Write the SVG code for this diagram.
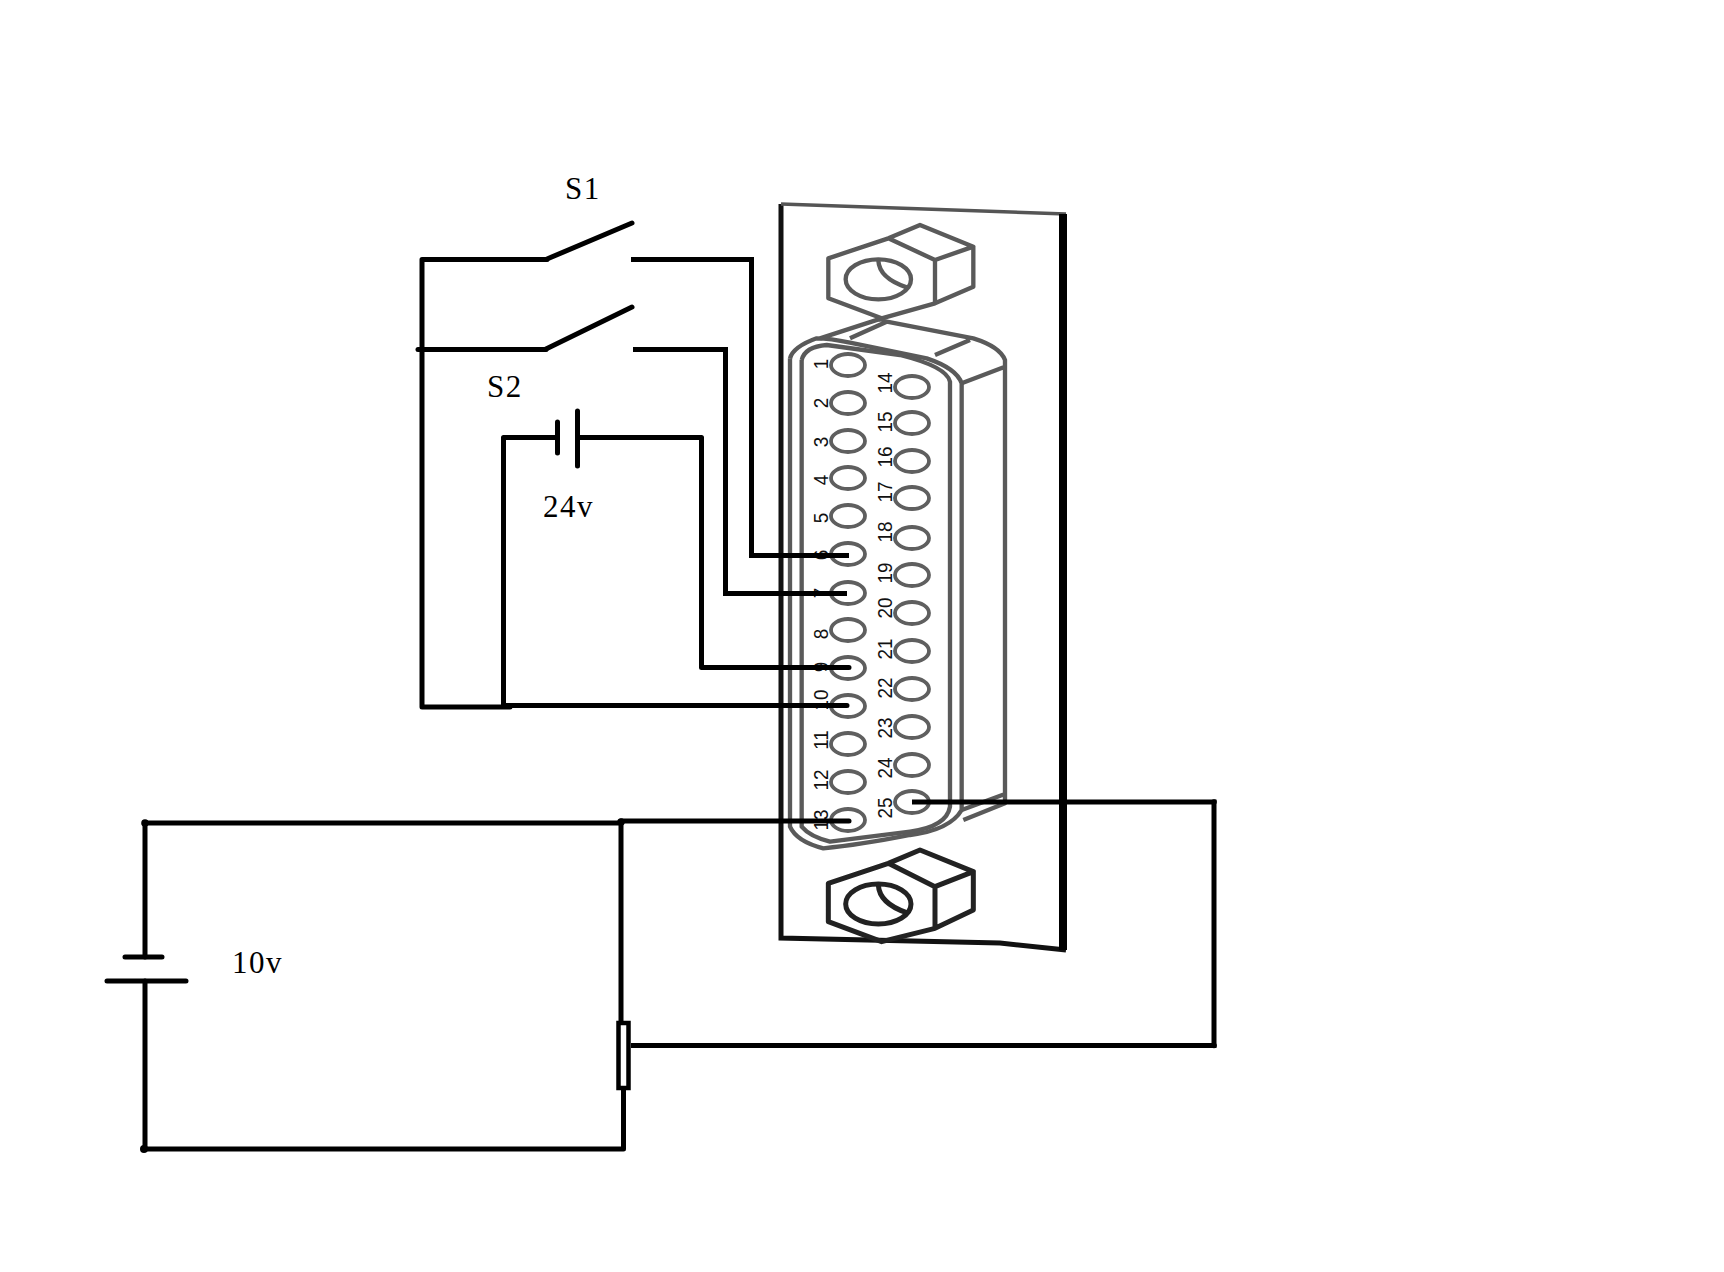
<svg xmlns="http://www.w3.org/2000/svg" width="1724" height="1272" viewBox="0 0 1724 1272">
<style>
.w{fill:none;stroke:#000;stroke-width:5;stroke-linecap:round;stroke-linejoin:round}
.b{fill:none;stroke:#000;stroke-width:5;stroke-linecap:butt;stroke-linejoin:miter}
.g{fill:none;stroke:#5a5a5a;stroke-linejoin:round;stroke-linecap:butt}
.g1{stroke-width:13}
.g2{stroke:#222;stroke-width:15}
.p{fill:none;stroke:#5f5f5f;stroke-width:3.8}
.n{font-family:"Liberation Sans",Arial,sans-serif;font-size:21px;fill:#111;text-anchor:middle}
.t{font-family:"Liberation Serif","Times New Roman",serif;font-size:31px;fill:#000;letter-spacing:1.5px}
.d{fill:#000}
</style>
<rect width="1724" height="1272" fill="#fff"/>
<g id="connector">
  <path d="M781 204V938L1000 943L1066 950" fill="none" stroke="#111" stroke-width="5"/>
  <path d="M781 204L1066 214" fill="none" stroke="#555" stroke-width="3.5"/>
  <path d="M1063 214V950" fill="none" stroke="#000" stroke-width="8"/>
  <g transform="translate(760 190) scale(.33333)">
    <path class="g g1" d="M205 205L385 145L525 210V340L365 385L205 325ZM385 145L480 105L640 170L525 210M640 170V290L525 340"/>
    <ellipse class="g g1" cx="355" cy="268" rx="98" ry="60"/>
    <path class="g g1" d="M355 212Q358 265 440 292"/>
    <path class="g g1" d="M365 385L180 445M380 395L270 445M365 392L640 445Q720 470 735 510V1050M525 495L630 450M605 580L735 530"/>
    <path class="g g1" d="M90 505Q100 470 170 445Q210 445 270 458L500 505Q590 535 605 580V1050"/>
    <path class="g g1" d="M125 510Q135 470 200 465L420 495Q560 530 570 575V1050"/>
    <path class="g g1" d="M90 505V1050M125 510V1050"/>
    <path class="g" stroke-width="20" d="M365 385L365 395"/>
  </g>
  <g transform="translate(760 540) scale(.33333)">
    <path class="g g1" d="M90 0V860Q110 905 190 925Q300 915 450 885Q570 870 605 810V0"/>
    <path class="g g1" d="M125 0V860Q150 890 210 905L450 875Q560 860 570 800V0"/>
    <path class="g g1" d="M735 0V790L610 840M605 810L735 762"/>
    <path class="g g2" d="M205 1030L385 970L525 1040V1165L365 1205L205 1145ZM385 970L480 930L640 995L525 1040M640 995V1110L525 1165"/>
    <ellipse class="g g2" cx="355" cy="1092" rx="98" ry="60"/>
    <path class="g g2" d="M355 1035Q358 1090 440 1118"/>
  </g>
</g>
<g id="pins">
  <ellipse class="p" cx="848" cy="365" rx="17" ry="11"/><ellipse class="p" cx="848" cy="403" rx="17" ry="11"/><ellipse class="p" cx="848" cy="441" rx="17" ry="11"/><ellipse class="p" cx="848" cy="478" rx="17" ry="11"/><ellipse class="p" cx="848" cy="516" rx="17" ry="11"/><ellipse class="p" cx="848" cy="554" rx="17" ry="11"/><ellipse class="p" cx="848" cy="593" rx="17" ry="11"/><ellipse class="p" cx="848" cy="630" rx="17" ry="11"/><ellipse class="p" cx="848" cy="668" rx="17" ry="11"/><ellipse class="p" cx="848" cy="706" rx="17" ry="11"/><ellipse class="p" cx="848" cy="744" rx="17" ry="11"/><ellipse class="p" cx="848" cy="782" rx="17" ry="11"/><ellipse class="p" cx="848" cy="820" rx="17" ry="11"/>
  <ellipse class="p" cx="912" cy="387" rx="17" ry="11"/><ellipse class="p" cx="912" cy="423" rx="17" ry="11"/><ellipse class="p" cx="912" cy="461" rx="17" ry="11"/><ellipse class="p" cx="912" cy="498" rx="17" ry="11"/><ellipse class="p" cx="912" cy="538" rx="17" ry="11"/><ellipse class="p" cx="912" cy="575" rx="17" ry="11"/><ellipse class="p" cx="912" cy="613" rx="17" ry="11"/><ellipse class="p" cx="912" cy="651" rx="17" ry="11"/><ellipse class="p" cx="912" cy="689" rx="17" ry="11"/><ellipse class="p" cx="912" cy="727" rx="17" ry="11"/><ellipse class="p" cx="912" cy="765" rx="17" ry="11"/><ellipse class="p" cx="912" cy="802" rx="17" ry="11"/>
</g>
<g id="pin-labels">
  <text class="n" transform="translate(828 364) rotate(-90) scale(.9 1)">1</text>
  <text class="n" transform="translate(828 403) rotate(-90) scale(.9 1)">2</text>
  <text class="n" transform="translate(828 442) rotate(-90) scale(.9 1)">3</text>
  <text class="n" transform="translate(828 480) rotate(-90) scale(.9 1)">4</text>
  <text class="n" transform="translate(828 518) rotate(-90) scale(.9 1)">5</text>
  <text class="n" transform="translate(828 555) rotate(-90) scale(.9 1)">6</text>
  <text class="n" transform="translate(828 593) rotate(-90) scale(.9 1)">7</text>
  <text class="n" transform="translate(828 634) rotate(-90) scale(.9 1)">8</text>
  <text class="n" transform="translate(828 667) rotate(-90) scale(.9 1)">9</text>
  <text class="n" transform="translate(828 700) rotate(-90) scale(.9 1)">10</text>
  <text class="n" transform="translate(828 740) rotate(-90) scale(.9 1)">11</text>
  <text class="n" transform="translate(828 780) rotate(-90) scale(.9 1)">12</text>
  <text class="n" transform="translate(828 820) rotate(-90) scale(.9 1)">13</text>
  <text class="n" transform="translate(892 383) rotate(-90) scale(.9 1)">14</text>
  <text class="n" transform="translate(892 422) rotate(-90) scale(.9 1)">15</text>
  <text class="n" transform="translate(892 457) rotate(-90) scale(.9 1)">16</text>
  <text class="n" transform="translate(892 492) rotate(-90) scale(.9 1)">17</text>
  <text class="n" transform="translate(892 532) rotate(-90) scale(.9 1)">18</text>
  <text class="n" transform="translate(892 573) rotate(-90) scale(.9 1)">19</text>
  <text class="n" transform="translate(892 608) rotate(-90) scale(.9 1)">20</text>
  <text class="n" transform="translate(892 649) rotate(-90) scale(.9 1)">21</text>
  <text class="n" transform="translate(892 688) rotate(-90) scale(.9 1)">22</text>
  <text class="n" transform="translate(892 728) rotate(-90) scale(.9 1)">23</text>
  <text class="n" transform="translate(892 768) rotate(-90) scale(.9 1)">24</text>
  <text class="n" transform="translate(892 808) rotate(-90) scale(.9 1)">25</text>
</g>
<g id="connectors">
  <path class="w" d="M547 259.500H422V707H510"/>
  <path class="b" d="M631 259.500H751.500V555.500H849"/>
  <path class="w" d="M418 349.500H546"/>
  <path class="b" d="M633 349.500H725.500V593.500H847"/>
  <path class="w" d="M556 437.500H503.500V705.500H847"/>
  <path class="w" d="M578 437.500H701.500V667.500H849"/>
  <path class="w" d="M145 823H621V1022"/>
  <path class="w" d="M621 821H849"/>
  <path class="w" d="M145 823V957"/>
  <path class="w" d="M145 981V1149H623.500V1089"/>
  <path class="b" d="M631 1045.500H1214V802H912"/>
  <circle class="d" cx="145" cy="823" r="3.800"/>
  <circle class="d" cx="144" cy="1149" r="4"/>
  <circle class="d" cx="621" cy="822" r="3.800"/>
  <circle class="d" cx="1214" cy="1045.500" r="2.800"/>
  <circle class="d" cx="1214" cy="802" r="2.800"/>
</g>
<g id="S1">
  <path class="w" d="M547 259L632 223"/>
  <text class="t" x="565" y="199">S1</text>
</g>
<g id="S2">
  <path class="w" d="M546 349L632 307"/>
  <text class="t" x="487" y="397">S2</text>
</g>
<g id="battery-24v">
  <path class="w" d="M557.500 422V453M577.500 411V466"/>
  <text class="t" x="543" y="517">24v</text>
</g>
<g id="battery-10v">
  <path class="w" d="M125 957H162M107 981H186"/>
  <text class="t" x="232" y="973">10v</text>
</g>
<g id="resistor">
  <rect x="618.500" y="1023" width="10" height="65" fill="#fff" stroke="#000" stroke-width="4.500"/>
</g>
</svg>
